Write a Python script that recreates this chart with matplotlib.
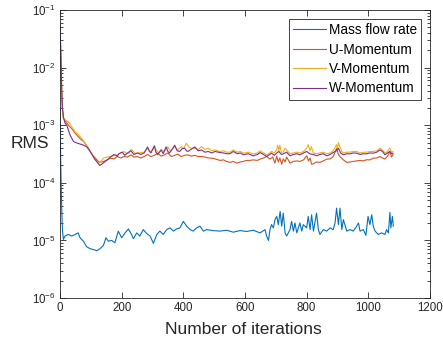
import matplotlib
matplotlib.use("Agg")
import matplotlib.pyplot as plt
from matplotlib.ticker import LogLocator, NullFormatter

plt.rcParams['font.family'] = ['Liberation Sans', 'DejaVu Sans']
plt.rcParams['mathtext.fontset'] = 'custom'
plt.rcParams['mathtext.rm'] = 'Liberation Sans'
plt.rcParams['mathtext.default'] = 'regular'

# --- data ---
mass_it = [0, 2, 4, 6, 8, 11, 16, 27, 38, 49, 59, 65, 76, 86, 97, 114, 119, 130, 141, 149,
           157, 168, 178, 189, 200, 211, 222, 232, 238, 249, 259, 270, 281, 292, 303, 314,
           324, 335, 346, 357, 368, 378, 389, 400, 411, 422, 432, 443, 454, 465, 476, 497,
           519, 540, 562, 584, 605, 627, 649, 665, 670, 676, 681, 686, 692, 697, 703, 708,
           714, 719, 724, 730, 735, 746, 751, 757, 762, 768, 778, 784, 789, 800, 805, 811,
           816, 822, 832, 838, 843, 854, 865, 876, 886, 892, 897, 903, 908, 914, 919, 930,
           941, 951, 962, 968, 973, 984, 992, 999, 1005, 1011, 1016, 1022, 1032, 1043, 1054,
           1059, 1065, 1070, 1073, 1078, 1081]
mass_rms = [2e-3, 3e-4, 8e-5, 3e-5, 1.5e-5, 1.04e-5, 1.19e-5, 1.27e-5, 1.19e-5, 1.27e-5, 1.35e-5,
            1.11e-5, 0.97e-5, 0.78e-5, 0.72e-5, 0.68e-5, 0.66e-5, 0.72e-5, 0.82e-5, 1.11e-5,
            0.97e-5, 1.0e-5, 0.91e-5, 1.45e-5, 1.11e-5, 1.35e-5, 1.58e-5, 1.27e-5, 1.07e-5,
            1.35e-5, 1.19e-5, 1.54e-5, 1.32e-5, 1.19e-5, 0.89e-5, 1.27e-5, 1.45e-5, 1.27e-5,
            1.54e-5, 1.65e-5, 1.45e-5, 1.58e-5, 1.65e-5, 2.14e-5, 1.76e-5, 1.54e-5, 1.45e-5,
            1.65e-5, 1.76e-5, 1.45e-5, 1.54e-5, 1.48e-5, 1.45e-5, 1.50e-5, 1.39e-5, 1.48e-5,
            1.43e-5, 1.50e-5, 1.35e-5, 1.54e-5, 1.19e-5, 1.0e-5, 1.54e-5, 1.88e-5, 1.65e-5,
            2.29e-5, 2.61e-5, 1.88e-5, 3.18e-5, 1.76e-5, 2.98e-5, 1.35e-5, 1.19e-5, 1.54e-5,
            2.14e-5, 1.45e-5, 2.01e-5, 1.35e-5, 2.01e-5, 1.45e-5, 1.88e-5, 1.65e-5, 2.61e-5,
            1.54e-5, 2.79e-5, 1.45e-5, 2.98e-5, 1.54e-5, 1.27e-5, 1.54e-5, 1.45e-5, 1.65e-5,
            1.54e-5, 2.01e-5, 3.63e-5, 1.88e-5, 3.63e-5, 1.54e-5, 2.29e-5, 1.45e-5, 1.54e-5,
            1.45e-5, 1.76e-5, 2.01e-5, 1.45e-5, 1.54e-5, 1.22e-5, 2.61e-5, 1.88e-5, 2.79e-5,
            1.76e-5, 1.45e-5, 1.27e-5, 1.35e-5, 1.27e-5, 1.54e-5, 1.35e-5, 3.06e-5, 1.65e-5,
            2.61e-5, 1.76e-5]

u_it = [0, 2, 4, 6, 8, 11, 16, 22, 30, 38, 47, 55, 66, 77, 88, 98, 106, 115, 126, 134, 142,
        153, 164, 175, 186, 197, 208, 219, 230, 240, 251, 262, 273, 284, 295, 306, 317, 328,
        339, 350, 361, 372, 382, 393, 404, 415, 426, 437, 448, 459, 470, 481, 492, 503, 519,
        530, 540, 551, 562, 573, 585, 595, 605, 616, 627, 640, 649, 660, 670, 681, 690, 697,
        703, 708, 713, 719, 724, 730, 735, 746, 757, 768, 778, 790, 800, 806, 811, 816, 822,
        832, 843, 854, 865, 876, 886, 897, 903, 908, 919, 930, 940, 951, 962, 973, 984, 994,
        1005, 1016, 1027, 1038, 1046, 1054, 1062, 1070, 1075, 1080]
u_rms = [5e-2, 2.3e-2, 8.5e-3, 3.3e-3, 1.9e-3, 1.35e-3, 1.2e-3, 1.1e-3, 9.6e-4, 8.8e-4, 7.5e-4,
         6.7e-4, 5.8e-4, 5.2e-4, 4.3e-4, 3.5e-4, 3.0e-4, 2.68e-4, 2.3e-4, 2.3e-4, 2.35e-4,
         2.5e-4, 2.68e-4, 2.6e-4, 2.86e-4, 2.7e-4, 2.86e-4, 2.8e-4, 3.06e-4, 2.8e-4, 2.86e-4,
         2.7e-4, 2.86e-4, 3.1e-4, 2.86e-4, 3.0e-4, 3.27e-4, 2.9e-4, 3.06e-4, 3.3e-4, 2.86e-4,
         3.0e-4, 3.14e-4, 2.86e-4, 3.0e-4, 3.06e-4, 2.9e-4, 3.0e-4, 2.86e-4, 2.86e-4, 2.8e-4,
         2.7e-4, 2.68e-4, 2.6e-4, 2.45e-4, 2.5e-4, 2.35e-4, 2.26e-4, 2.35e-4, 2.2e-4, 2.3e-4,
         2.35e-4, 2.45e-4, 2.45e-4, 2.5e-4, 2.45e-4, 2.58e-4, 2.7e-4, 2.86e-4, 2.58e-4, 2.8e-4,
         2.2e-4, 2.9e-4, 2.3e-4, 2.7e-4, 2.1e-4, 2.6e-4, 2.3e-4, 2.8e-4, 2.2e-4, 2.35e-4,
         2.4e-4, 2.35e-4, 2.5e-4, 2.94e-4, 2.4e-4, 2.7e-4, 2.1e-4, 2.14e-4, 2.3e-4, 2.26e-4,
         2.4e-4, 2.58e-4, 2.6e-4, 2.86e-4, 3.98e-4, 3.1e-4, 2.86e-4, 2.5e-4, 2.26e-4, 2.3e-4,
         2.35e-4, 2.4e-4, 2.45e-4, 2.4e-4, 2.51e-4, 2.5e-4, 2.68e-4, 2.7e-4, 2.86e-4, 2.7e-4,
         2.58e-4, 2.9e-4, 3.49e-4, 2.8e-4, 3.1e-4]

v_it = [0, 2, 4, 6, 8, 11, 16, 22, 30, 38, 49, 58, 66, 74, 82, 90, 98, 106, 115, 126, 134, 142,
        153, 164, 175, 186, 197, 208, 216, 224, 230, 235, 245, 254, 262, 273, 284, 292, 300,
        306, 314, 320, 328, 338, 350, 358, 365, 372, 382, 393, 400, 410, 418, 426, 437, 448,
        459, 470, 481, 492, 503, 519, 530, 540, 551, 562, 575, 585, 595, 610, 627, 640, 649,
        660, 670, 680, 686, 695, 703, 706, 710, 713, 718, 724, 730, 735, 746, 757, 768, 778,
        790, 800, 805, 811, 815, 822, 832, 843, 854, 865, 876, 886, 897, 900, 903, 908, 914,
        919, 930, 940, 951, 962, 973, 984, 994, 1005, 1016, 1027, 1038, 1046, 1054, 1062,
        1070, 1075, 1080]
v_rms = [5e-2, 2.2e-2, 8e-3, 3.2e-3, 1.9e-3, 1.3e-3, 1.25e-3, 1.19e-3, 1.1e-3, 9.4e-4, 7.7e-4,
         7.0e-4, 6.3e-4, 5.6e-4, 4.85e-4, 4.2e-4, 3.5e-4, 3.0e-4, 2.5e-4, 2.2e-4, 2.4e-4,
         2.7e-4, 2.8e-4, 2.86e-4, 3.0e-4, 3.06e-4, 3.3e-4, 3.49e-4, 3.2e-4, 3.27e-4, 3.8e-4,
         3.63e-4, 3.2e-4, 3.3e-4, 3.35e-4, 3.4e-4, 3.98e-4, 3.5e-4, 3.7e-4, 4.25e-4, 3.6e-4,
         3.3e-4, 3.8e-4, 3.5e-4, 4.25e-4, 3.5e-4, 3.9e-4, 4.25e-4, 3.7e-4, 4.25e-4, 3.9e-4,
         4.85e-4, 4.2e-4, 3.98e-4, 4.0e-4, 3.8e-4, 4.25e-4, 3.8e-4, 3.98e-4, 3.6e-4, 3.73e-4,
         3.49e-4, 3.6e-4, 3.4e-4, 3.4e-4, 3.73e-4, 3.4e-4, 3.5e-4, 3.27e-4, 3.4e-4, 3.18e-4,
         3.3e-4, 3.6e-4, 3.3e-4, 3.06e-4, 3.3e-4, 3.5e-4, 3.3e-4, 3.8e-4, 4.5e-4, 3.6e-4,
         4.5e-4, 3.4e-4, 3.4e-4, 4.0e-4, 3.7e-4, 3.2e-4, 3.3e-4, 3.4e-4, 3.3e-4, 3.5e-4,
         4.0e-4, 4.6e-4, 3.6e-4, 4.25e-4, 3.3e-4, 3.2e-4, 3.3e-4, 3.4e-4, 3.2e-4, 3.3e-4,
         3.6e-4, 4.6e-4, 3.9e-4, 5.0e-4, 4.2e-4, 3.5e-4, 3.3e-4, 3.4e-4, 3.4e-4, 3.5e-4,
         3.5e-4, 3.3e-4, 3.4e-4, 3.4e-4, 3.5e-4, 3.5e-4, 3.6e-4, 4.0e-4, 3.7e-4, 3.3e-4,
         3.5e-4, 4.0e-4, 3.4e-4, 3.5e-4]

w_it = [0, 2, 4, 6, 8, 11, 16, 22, 33, 44, 55, 66, 77, 87, 95, 104, 112, 120, 129, 140, 153,
        164, 175, 186, 191, 202, 210, 219, 230, 240, 251, 262, 273, 284, 290, 295, 306, 311,
        317, 328, 335, 344, 350, 355, 365, 372, 380, 388, 396, 404, 410, 415, 425, 437, 448,
        459, 470, 481, 492, 503, 519, 530, 540, 551, 562, 575, 585, 595, 610, 627, 640, 649,
        660, 670, 680, 686, 695, 703, 710, 718, 724, 735, 746, 757, 768, 778, 790, 800, 811,
        822, 832, 843, 854, 865, 876, 886, 897, 903, 910, 919, 930, 940, 951, 962, 973, 984,
        994, 1005, 1016, 1027, 1038, 1046, 1054, 1062, 1070, 1075, 1080]
w_rms = [5.5e-2, 2.5e-2, 9e-3, 3.5e-3, 2.0e-3, 1.4e-3, 1.1e-3, 1.0e-3, 6.7e-4, 5.2e-4, 4.9e-4,
         4.7e-4, 4.5e-4, 4.2e-4, 3.7e-4, 3.1e-4, 2.6e-4, 2.3e-4, 2.0e-4, 2.2e-4, 2.5e-4,
         2.8e-4, 3.1e-4, 2.9e-4, 3.2e-4, 3.4e-4, 3.0e-4, 3.3e-4, 3.6e-4, 3.1e-4, 3.3e-4,
         3.1e-4, 3.3e-4, 4.2e-4, 3.5e-4, 3.3e-4, 4.4e-4, 3.4e-4, 3.1e-4, 3.7e-4, 3.2e-4,
         4.2e-4, 3.5e-4, 3.3e-4, 3.9e-4, 4.5e-4, 3.6e-4, 3.5e-4, 3.9e-4, 4.0e-4, 3.6e-4,
         3.5e-4, 3.8e-4, 4.2e-4, 3.6e-4, 3.7e-4, 3.4e-4, 3.5e-4, 3.3e-4, 3.5e-4, 3.35e-4,
         3.3e-4, 3.2e-4, 3.2e-4, 3.5e-4, 3.2e-4, 3.3e-4, 3.06e-4, 3.2e-4, 2.94e-4, 3.1e-4,
         3.35e-4, 3.1e-4, 2.86e-4, 3.1e-4, 3.27e-4, 3.0e-4, 3.3e-4, 3.5e-4, 3.1e-4, 3.18e-4,
         3.4e-4, 2.94e-4, 3.1e-4, 3.2e-4, 3.06e-4, 3.3e-4, 3.5e-4, 3.18e-4, 3.1e-4, 2.94e-4,
         3.1e-4, 3.2e-4, 2.94e-4, 3.1e-4, 3.35e-4, 3.6e-4, 3.98e-4, 3.3e-4, 3.06e-4, 3.2e-4,
         3.18e-4, 3.3e-4, 3.27e-4, 3.1e-4, 3.2e-4, 3.18e-4, 3.3e-4, 3.27e-4, 3.4e-4, 3.73e-4,
         3.5e-4, 3.06e-4, 3.3e-4, 3.5e-4, 3.2e-4, 3.27e-4]

labels = ["Mass flow rate", "U-Momentum", "V-Momentum", "W-Momentum"]
colors = ["#0072BD", "#D95319", "#EDB120", "#7E2F8E"]

# --- plot ---
fig = plt.figure(figsize=(4.43, 3.43), dpi=100)
ax = fig.add_axes([0.1354, 0.1312, 0.8353, 0.8396])

series = [(mass_it, mass_rms), (u_it, u_rms), (v_it, v_rms), (w_it, w_rms)]
for (it, rms), lab, c in zip(series, labels, colors):
    ax.plot(it, rms, color=c, lw=0.8, label=lab)

ax.set_yscale("log")
ax.set_xlim(0, 1200)
ax.set_ylim(1e-6, 1e-1)
ax.set_xticks([0, 200, 400, 600, 800, 1000, 1200])
ax.yaxis.set_major_locator(LogLocator(base=10, numticks=10))
ax.yaxis.set_minor_locator(LogLocator(base=10, subs=range(2, 10), numticks=20))
ax.yaxis.set_minor_formatter(NullFormatter())

tc = "#262626"
ax.tick_params(which="both", direction="in", top=True, right=True, colors=tc,
               labelcolor=tc, labelsize=8.3, width=0.6)
ax.tick_params(which="major", length=4, pad=3)
ax.tick_params(which="minor", length=2)
for s in ax.spines.values():
    s.set_color(tc)
    s.set_linewidth(0.6)

ax.set_xlabel("Number of iterations", fontsize=12.5, color=tc, va="center")
ax.xaxis.set_label_coords(0.495, -0.111)
ax.set_ylabel("RMS", fontsize=12.5, color=tc, rotation=0, ha="center", va="center")
ax.yaxis.set_label_coords(-0.081, 0.536)

leg = ax.legend(loc="upper right", bbox_to_anchor=(0.9757, 0.9688), borderaxespad=0,
                fontsize=9.8, handlelength=2.4, handletextpad=0.2, labelspacing=0.4,
                borderpad=0.3, fancybox=False, framealpha=1, edgecolor=tc)
leg.get_frame().set_linewidth(0.6)
for t in leg.get_texts():
    t.set_color("black")

fig.savefig("out.png", dpi=100)
